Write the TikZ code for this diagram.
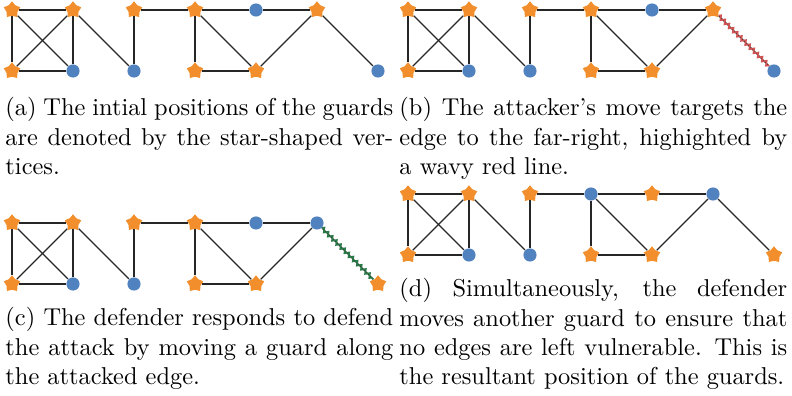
\documentclass[tikz,border=0pt]{standalone}
\usetikzlibrary{shapes.geometric,decorations.pathmorphing}
\definecolor{guardorange}{RGB}{242,142,43}
\definecolor{freeblue}{RGB}{80,130,192}
\definecolor{wavered}{RGB}{208,84,84}
\definecolor{wavegreen}{RGB}{42,122,72}
\tikzset{
  guard/.style={star, star points=5, star point ratio=1.5, fill=guardorange, draw=none, inner sep=0pt, minimum size=7.1pt},
  free/.style={circle, fill=freeblue, draw=none, inner sep=0pt, minimum size=5.4pt},
  edge/.style={draw=black!85, line width=0.45pt},
  redwave/.style={draw=wavered, line width=0.7pt, decorate, decoration={zigzag, segment length=2.4pt, amplitude=0.8pt}},
  greenwave/.style={draw=wavegreen, line width=0.7pt, decorate, decoration={zigzag, segment length=2.4pt, amplitude=0.8pt}},
  captext/.style={anchor=base west, inner sep=0pt, text width=159pt, align=justify, font=\fontsize{10}{12}\selectfont}
}
\newcommand\graphpanel[4]{%
  \begin{scope}[shift={(#2,#3)}]
    \foreach \n/\c/\r/\s in {#4}
      \node[\s] (#1\n) at ({12+61*(\c-1)},{10+61*\r}) {};
    \foreach \u/\v in {t1/t2,t1/b1,t1/b2,t2/b1,t2/b2,b1/b2,t2/b3,t3/b3,t3/t4,t4/t5,t5/t6,t4/b4,t4/b5,b4/b5,b5/t6,t6/b7}
      \draw[edge] (#1\u) -- (#1\v);
  \end{scope}}
\begin{document}
\begin{tikzpicture}[x=0.41pt,y=-0.41pt]
\useasboundingbox (0,0) rectangle (792,396);
% (a)
\graphpanel{a}{0}{0}{t1/1/0/guard,t2/2/0/guard,t3/3/0/guard,t4/4/0/guard,t5/5/0/free,t6/6/0/guard,b1/1/1/guard,b2/2/1/free,b3/3/1/free,b4/4/1/guard,b5/5/1/guard,b7/7/1/free}
% (b)
\graphpanel{b}{396}{0}{t1/1/0/guard,t2/2/0/guard,t3/3/0/guard,t4/4/0/guard,t5/5/0/free,t6/6/0/guard,b1/1/1/guard,b2/2/1/free,b3/3/1/free,b4/4/1/guard,b5/5/1/guard,b7/7/1/free}
\draw[redwave] (bt6) -- (bb7);
% (c)
\graphpanel{c}{0}{213}{t1/1/0/guard,t2/2/0/guard,t3/3/0/guard,t4/4/0/guard,t5/5/0/free,t6/6/0/free,b1/1/1/guard,b2/2/1/free,b3/3/1/free,b4/4/1/guard,b5/5/1/guard,b7/7/1/guard}
\draw[greenwave] (ct6) -- (cb7);
% (d)
\graphpanel{d}{396}{184}{t1/1/0/guard,t2/2/0/guard,t3/3/0/guard,t4/4/0/free,t5/5/0/guard,t6/6/0/free,b1/1/1/guard,b2/2/1/free,b3/3/1/free,b4/4/1/guard,b5/5/1/guard,b7/7/1/guard}
% captions
\node[captext] (capa) at (5,116) {(a) The intial positions of the guards\linebreak are denoted by the star-shaped ver-\linebreak tices.};
\node[captext] (capb) at (399,116) {(b) The attacker's move targets the\linebreak edge to the far-right, highighted by\linebreak a wavy red line.};
\node[captext] (capc) at (5,326) {(c) The defender responds to defend\linebreak the attack by moving a guard along\linebreak the attacked edge.};
\node[captext] (capd) at (399,297) {(d) Simultaneously, the defender\linebreak moves another guard to ensure that\linebreak no edges are left vulnerable. This is\linebreak the resultant position of the guards.};
\end{tikzpicture}
\end{document}
